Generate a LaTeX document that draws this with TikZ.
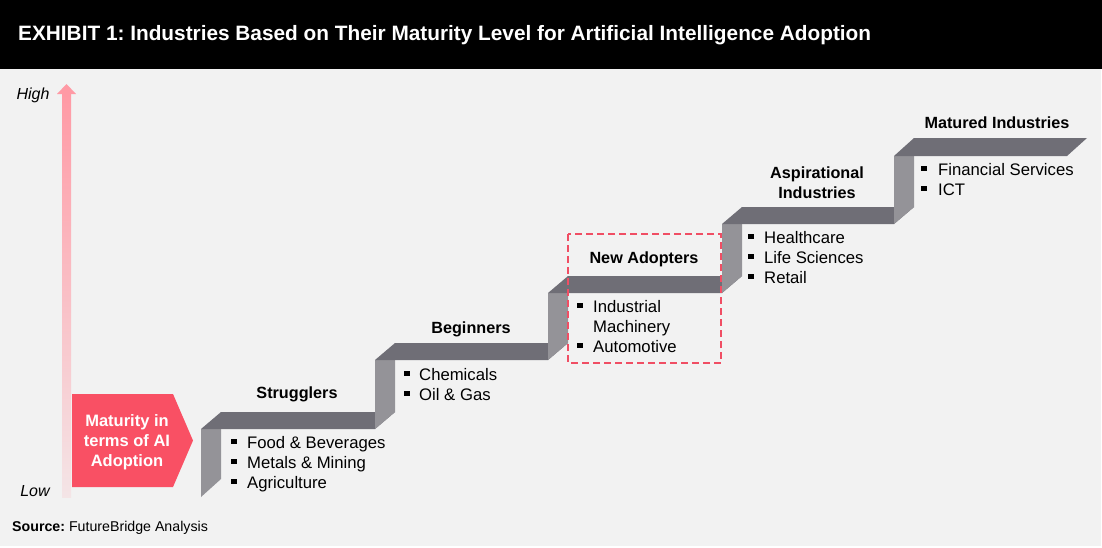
\documentclass[tikz,border=0pt]{standalone}
\usepackage{fontspec}
\setmainfont{Liberation Sans}
\frenchspacing
\begin{document}
\begin{tikzpicture}[x=1pt,y=-1pt,
  topface/.style={fill=stairdark,draw=none},
  riserface/.style={fill=stairlight,draw=none},
  heading/.style={font=\fontsize{16.2}{20}\selectfont\bfseries,align=center,inner sep=0pt},
  itemlist/.style={font=\fontsize{16.7}{20}\selectfont,inner sep=0pt,anchor=base west},
  axislabel/.style={font=\fontsize{16}{19}\selectfont\itshape,inner sep=0pt}]
\definecolor{stairdark}{HTML}{6F6E76}
\definecolor{stairlight}{HTML}{949398}
\definecolor{bggray}{HTML}{F2F2F2}
\definecolor{redbox}{HTML}{F95064}
\definecolor{dashred}{HTML}{F04E64}
\definecolor{arrowtop}{HTML}{FF9AA5}
\newcommand{\bsq}{\rule[4pt]{5.5pt}{5.5pt}}
\useasboundingbox (0,0) rectangle (1102,547);
\fill[white] (0,0) rectangle (1102,547);
\fill[bggray] (0,69) rectangle (1101,546);
\fill[black] (0,0) rectangle (1102,69);
\node[anchor=west,text=white,font=\fontsize{20.8}{24}\selectfont\bfseries,inner sep=0pt] (title) at (18,35)
  {\frenchspacing EXHIBIT 1: Industries Based on Their Maturity Level for Artificial Intelligence Adoption};
% vertical gradient arrow
\shade[top color=arrowtop,bottom color=bggray!85!arrowtop] (62,94) rectangle (71,497);
\fill[arrowtop] (57,94) -- (66.5,84) -- (76,94) -- cycle;
\node[axislabel] (high) at (33,95) {High};
\node[axislabel] (low) at (35,491) {Low};
% red pentagon
\fill[redbox] (72,394) -- (173,394) -- (193,440.5) -- (173,487) -- (72,487) -- cycle;
\node[text=white,font=\fontsize{16.5}{20}\selectfont\bfseries,align=center,inner sep=0pt] (maturity) at (127,442)
  {Maturity in\\terms of AI\\Adoption};
% stairs
\fill[riserface] (201,429) -- (221,429) -- (221,479) -- (201,497) -- cycle;
\fill[topface] (201,429) -- (221,412) -- (395,412) -- (375,429) -- cycle;
\fill[riserface] (375,360) -- (395,360) -- (395,412) -- (375,429) -- cycle;
\fill[topface] (375,360) -- (395,343) -- (568,343) -- (548,360) -- cycle;
\fill[riserface] (548,293) -- (568,293) -- (568,343) -- (548,360) -- cycle;
\fill[topface] (548,293) -- (568,276) -- (742,276) -- (722,293) -- cycle;
\fill[riserface] (722,224) -- (742,224) -- (742,276) -- (722,293) -- cycle;
\fill[topface] (722,224) -- (742,207) -- (914,207) -- (894,224) -- cycle;
\fill[riserface] (894,156) -- (914,156) -- (914,207) -- (894,224) -- cycle;
\fill[topface] (894,156) -- (914,138) -- (1087,138) -- (1067,156) -- cycle;
% headings
\node[heading] (strugglers) at (297,394.5) {Strugglers};
\node[heading] (beginners) at (471,329.5) {Beginners};
\node[heading] (newadopters) at (644,259.5) {New Adopters};
\node[heading] (aspirational) at (817,183) {Aspirational\\Industries};
\node[heading] (matured) at (997,122.5) {Matured Industries};
% lists
\node[itemlist] (l1) at (231,448) {\begin{tabular}[t]{@{}l@{\hspace{10.5pt}}l@{}}\bsq & Food \& Beverages\\ \bsq & Metals \& Mining\\ \bsq & Agriculture\end{tabular}};
\node[itemlist] (l2) at (404,380) {\begin{tabular}[t]{@{}l@{\hspace{9.5pt}}l@{}}\bsq & Chemicals\\ \bsq & Oil \& Gas\end{tabular}};
\node[itemlist] (l3) at (577,312) {\begin{tabular}[t]{@{}l@{\hspace{10.5pt}}l@{}}\bsq & Industrial\\ & Machinery\\ \bsq & Automotive\end{tabular}};
\node[itemlist] (l4) at (748,243) {\begin{tabular}[t]{@{}l@{\hspace{10.5pt}}l@{}}\bsq & Healthcare\\ \bsq & Life Sciences\\ \bsq & Retail\end{tabular}};
\node[itemlist] (l5) at (921,175) {\begin{tabular}[t]{@{}l@{\hspace{11.5pt}}l@{}}\bsq & Financial Services\\ \bsq & ICT\end{tabular}};
% dashed highlight
\draw[dashred,line width=2pt,dash pattern=on 7pt off 4pt] (568,234) rectangle (721,363);
% source
\node[anchor=west,inner sep=0pt,font=\fontsize{14.2}{17}\selectfont] (source) at (12,528)
  {\textbf{Source:}~FutureBridge Analysis};
\end{tikzpicture}
\end{document}
